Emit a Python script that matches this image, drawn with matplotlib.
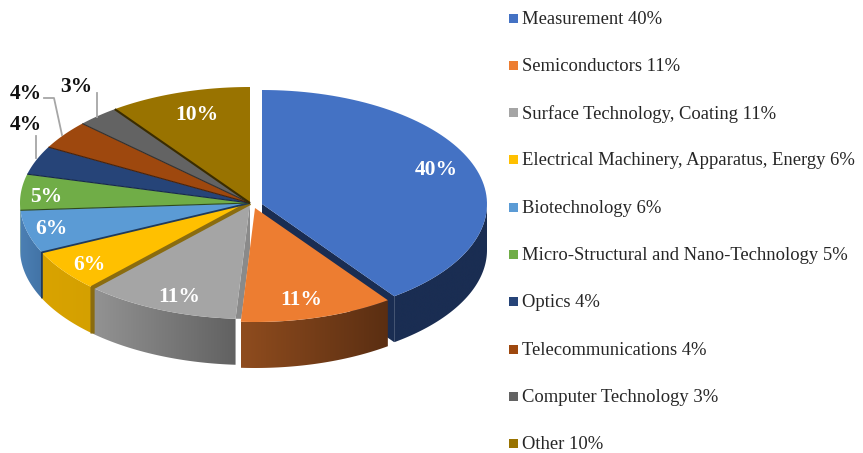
"""3D-style pie chart of patent shares by technology field."""

import matplotlib

matplotlib.use("Agg")

import matplotlib.pyplot as plt
import numpy as np
from matplotlib.colors import LinearSegmentedColormap
from matplotlib.patches import Polygon, Rectangle

plt.rcParams["font.family"] = ["Liberation Serif", "DejaVu Serif"]

categories = [
    "Measurement",
    "Semiconductors",
    "Surface Technology, Coating",
    "Electrical Machinery, Apparatus, Energy",
    "Biotechnology",
    "Micro-Structural and Nano-Technology",
    "Optics",
    "Telecommunications",
    "Computer Technology",
    "Other",
]
shares = [40, 11, 11, 6, 6, 5, 4, 4, 3, 10]

top_colors = [
    "#4472C4", "#ED7D31", "#A5A5A5", "#FFC000", "#5B9BD5",
    "#70AD47", "#264478", "#9E480E", "#636363", "#997300",
]
# wall shading, left and right end of the gradient
wall_colors = [
    ("#1A2D52", "#1A2D52"), ("#8F4C1E", "#5A2E12"), ("#939393", "#616161"),
    ("#D9A300", "#D4A000"), ("#4C80B4", "#4273A6"), ("#5E9140", "#5E9140"),
    ("#1E3660", "#1E3660"), ("#7E390B", "#7E390B"), ("#4F4F4F", "#4F4F4F"),
    ("#7A5C00", "#7A5C00"),
]
# seam drawn at the clockwise start of each slice
seam_colors = [
    "#1A2D52", "#1A2D52", "#8A8A8A", "#8A6C10", "#1F3A5C",
    "#2F4A1E", "#16284A", "#4A2208", "#303030", "#3A2C00",
]
seam_widths = [0, 0, 0, 3.0, 1.3, 0.8, 0.8, 0.8, 0.8, 1.5]

# pie geometry in pixels
centers = [(262, 204), (255, 208)] + [(250, 203)] * 8
radii = [(225, 114), (226, 114)] + [(230, 116)] * 8
DEPTH = 46

label_positions = [
    (436, 170), (301, 300), (179, 297), (89, 265), (51, 229),
    (46, 197), (26, 125), (26, 94), (76, 87), (197, 115),
]
label_colors = ["white"] * 6 + ["#111111"] * 3 + ["white"]
leader_lines = [
    [(36, 136), (36, 158)],
    [(44, 98), (54, 98), (62, 135)],
    [(97, 93), (97, 117)],
]

LEGEND_X = 509
LEGEND_TOP = 18
LEGEND_STEP = 47.3


def rim(index, angles):
    """Points on the top rim of a slice, angles clockwise from 12 o'clock."""
    cx, cy = centers[index]
    rx, ry = radii[index]
    theta = np.radians(angles)
    return np.column_stack([cx + rx * np.sin(theta), cy - ry * np.cos(theta)])


def draw_wall(ax, index, start, end):
    front_start, front_end = max(start, 90), min(end, 270)
    if front_start >= front_end:
        return
    top = rim(index, np.linspace(front_start, front_end, 80))
    wall = np.vstack([top, top[::-1] + [0, DEPTH]])
    patch = Polygon(wall, closed=True, facecolor="none", edgecolor="none")
    ax.add_patch(patch)
    # the arc runs right to left, so the gradient is laid out by x
    cmap = LinearSegmentedColormap.from_list("wall", wall_colors[index])
    image = ax.imshow(
        np.linspace(0, 1, 256).reshape(1, -1),
        extent=(wall[:, 0].min(), wall[:, 0].max(), wall[:, 1].max(), wall[:, 1].min()),
        cmap=cmap,
        aspect="auto",
        zorder=2,
    )
    image.set_clip_path(patch)


figure = plt.figure(figsize=(8.63, 4.53), dpi=100)
axis = figure.add_axes([0, 0, 1, 1])

edges = np.cumsum([0] + shares) * 3.6

# back slices first, the two pulled-out slices last
for index in [9, 8, 7, 6, 5, 4, 3, 2, 0, 1]:
    start, end = edges[index], edges[index + 1]
    apex = np.array(centers[index], dtype=float)

    if index == 0:
        # end face of the large slice, seen in the gap above the orange one
        outer = rim(index, [end])[0]
        axis.add_patch(
            Polygon(
                [apex, outer, outer + [0, DEPTH], apex + [0, DEPTH]],
                facecolor="#1A2D52",
                zorder=2,
            )
        )
    if index == 2:
        # start face of the gray slice, only the sliver above its rim shows
        outer = rim(index, [start])[0]
        low_apex = apex + [0, DEPTH]
        t = (outer[1] - low_apex[1]) / (outer[1] - apex[1])
        axis.add_patch(
            Polygon(
                [apex, low_apex, low_apex + t * (outer - apex), outer],
                facecolor=seam_colors[2],
                zorder=2,
            )
        )

    draw_wall(axis, index, start, end)
    arc = rim(index, np.linspace(start, end, 80))
    axis.add_patch(
        Polygon(
            np.vstack([apex, arc]),
            facecolor=top_colors[index],
            edgecolor="none",
            zorder=3,
        )
    )

for index in range(2, 10):
    if seam_widths[index] == 0:
        continue
    outer = rim(index, [edges[index]])[0]
    path = [centers[index], outer]
    # only the seams on the front of the pie run on down the wall
    if edges[index] < 260:
        path.append(outer + [0, DEPTH])
    xs, ys = zip(*path)
    axis.plot(
        xs, ys, color=seam_colors[index], lw=seam_widths[index],
        solid_capstyle="butt", zorder=4,
    )

for share, (x, y), color in zip(shares, label_positions, label_colors):
    axis.text(
        x, y, f"{share}%", color=color, fontsize=15.5, fontweight="bold",
        ha="center", va="center", zorder=6,
    )

for line in leader_lines:
    xs, ys = zip(*line)
    axis.plot(xs, ys, color="#A6A6A6", lw=1.3, zorder=5)

for row, (name, share, color) in enumerate(zip(categories, shares, top_colors)):
    y = LEGEND_TOP + row * LEGEND_STEP
    axis.add_patch(Rectangle((LEGEND_X, y - 4.5), 9, 9, facecolor=color, zorder=3))
    axis.text(
        LEGEND_X + 13, y + 1, f"{name} {share}%", color="#262626", fontsize=13.4,
        ha="left", va="center",
    )

axis.set_xlim(0, 863)
axis.set_ylim(453, 0)
axis.axis("off")

figure.savefig("out.png", dpi=100)
plt.close(figure)
